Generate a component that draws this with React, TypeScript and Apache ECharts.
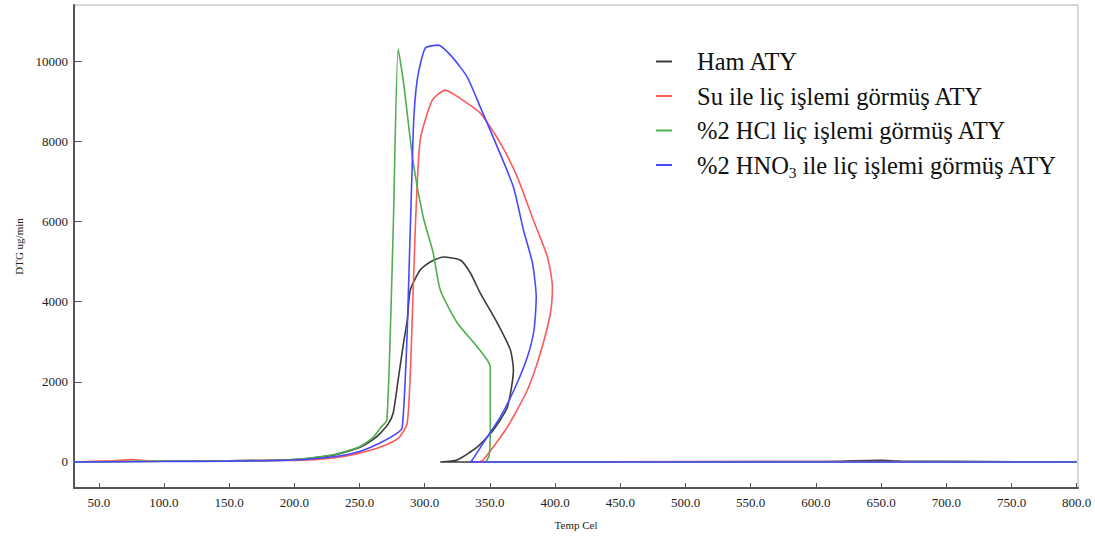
import React, { useEffect, useRef } from "react";
import * as echarts from "echarts";

const xTicks = [50, 100, 150, 200, 250, 300, 350, 400, 450, 500, 550, 600, 650, 700, 750, 800];
const yTicks = [0, 2000, 4000, 6000, 8000, 10000];

const seriesNames = [
  "Ham ATY",
  "Su ile liç işlemi görmüş ATY",
  "%2 HCl liç işlemi görmüş ATY",
  "%2 HNO3 ile liç işlemi görmüş ATY",
];

// [Temp (°C), DTG (ug/min)] in measurement order (curves loop back in temperature)
const hamATY: number[][] = [
  [30, 0], [100, 20], [150, 30], [200, 60], [230, 170], [250, 360], [260, 550], [266, 720],
  [272, 950], [275.8, 1222], [279.6, 2045], [283.5, 2918], [286.6, 3541], [288.9, 4289],
  [296.5, 4788], [304.2, 4988], [314.2, 5112], [327.3, 5037], [335, 4713], [342.6, 4214],
  [355.7, 3466], [365.7, 2793], [368, 2294], [363.4, 1372], [352.6, 798], [340.3, 374],
  [325, 50], [311.9, 0], [400, 0], [600, 10], [650, 40], [665, 20], [800, 0],
];
const suATY: number[][] = [
  [30, 0], [60, 30], [75, 60], [90, 20], [200, 40], [230, 100], [250, 220], [266, 370],
  [280, 600], [286.6, 973], [289.6, 2793], [292.7, 5786], [296.5, 8030], [305.8, 9027],
  [315.7, 9277], [325.7, 9102], [342.6, 8703], [358, 7955], [371, 7107], [383.3, 6035],
  [394.1, 5112], [397.9, 4364], [396.4, 3716], [388.7, 2718], [378.7, 1796], [363.4, 873],
  [344.9, 50], [341, 0], [500, 10], [600, 10], [800, 0],
];
const hclATY: number[][] = [
  [30, 0], [100, 20], [150, 20], [200, 60], [230, 180], [250, 380], [260, 600], [266, 850],
  [271, 1050], [275.8, 5786], [279.6, 10300], [283.5, 9526], [291.2, 7456], [298.8, 6110],
  [306.5, 5212], [311.9, 4289], [325, 3466], [340.3, 2868], [350.3, 2369], [350.3, 973],
  [349.5, 175], [347, 0], [500, 0], [800, 0],
];
const hno3ATY: number[][] = [
  [30, 0], [100, 10], [150, 20], [200, 50], [230, 130], [250, 260], [266, 480], [278, 700],
  [282.7, 850], [286.6, 3292], [291.2, 8279], [294.2, 9526], [300.4, 10324], [310.4, 10399],
  [321.1, 10100], [332.6, 9601], [342.6, 8853], [355.7, 7855], [368, 6858], [375.7, 5786],
  [382.6, 4963], [385.5, 4115], [383.8, 3292], [378.7, 2618], [369.5, 1870], [358, 1122],
  [344.9, 474], [336.5, 50], [335, 0], [500, 0], [800, 0],
];

const colors = ["#3c3c3c", "#ff5a5a", "#4fae4f", "#4848ff"];
const dataSets = [hamATY, suATY, hclATY, hno3ATY];

export default function App() {
  const ref = useRef<HTMLDivElement>(null);
  useEffect(() => {
    if (!ref.current) return;
    const chart = echarts.init(ref.current, undefined, { renderer: "svg" });
    const font = "Liberation Serif";
    chart.setOption({
      animation: false,
      backgroundColor: "#ffffff",
      textStyle: { fontFamily: font },
      grid: {
        left: 74,
        right: 17,
        top: 5,
        bottom: 48,
        show: true,
        borderColor: "#b0b0b0",
        borderWidth: 1,
      },
      legend: {
        orient: "vertical",
        left: 651,
        top: 44,
        icon: "rect",
        itemWidth: 16,
        itemHeight: 2,
        itemGap: 9.5,
        data: seriesNames,
        formatter: (name: string) =>
          name.indexOf("HNO3") >= 0
            ? "{a|%2 HNO}{sub|3}{a| ile liç işlemi görmüş ATY}"
            : "{a|" + name + "}",
        textStyle: {
          fontFamily: font,
          fontSize: 24.5,
          color: "#111",
          padding: [0, 0, 0, 20],
          rich: {
            a: { fontFamily: font, fontSize: 24.5, color: "#111" },
            sub: {
              fontFamily: font,
              fontSize: 15.5,
              color: "#111",
              verticalAlign: "bottom",
              padding: [14, 0, 0, 0],
            },
          },
        },
      },
      xAxis: {
        type: "value",
        min: 31,
        max: 801,
        name: "Temp Cel",
        nameLocation: "middle",
        nameGap: 31,
        nameTextStyle: { fontFamily: font, fontSize: 11, color: "#222" },
        splitLine: { show: false },
        axisLine: { show: true, onZero: false, lineStyle: { color: "#555", width: 2 } },
        axisTick: { show: true, inside: true, length: 5, customValues: xTicks, lineStyle: { color: "#555" } },
        axisLabel: {
          customValues: xTicks,
          formatter: (v: number) => v.toFixed(1),
          fontFamily: font,
          fontSize: 13,
          color: "#222",
          margin: 8,
        },
      },
      yAxis: {
        type: "value",
        min: -650,
        max: 11400,
        name: "DTG ug/min",
        nameLocation: "middle",
        nameGap: 50,
        nameRotate: 90,
        nameTextStyle: { fontFamily: font, fontSize: 11, color: "#222" },
        splitLine: { show: false },
        axisLine: { show: true, onZero: false, lineStyle: { color: "#555", width: 2 } },
        axisTick: { show: true, inside: true, length: 8, customValues: yTicks, lineStyle: { color: "#555" } },
        axisLabel: {
          customValues: yTicks,
          formatter: (v: number) => String(v),
          fontFamily: font,
          fontSize: 13,
          color: "#222",
          margin: 6,
        },
      },
      series: dataSets.map((d, i) => ({
        name: seriesNames[i],
        type: "line",
        data: d,
        showSymbol: false,
        smooth: 0.2,
        color: colors[i],
        lineStyle: { color: colors[i], width: 1.6 },
      })),
    });
    return () => chart.dispose();
  }, []);
  return (
    <div
      ref={ref}
      style={{ position: "fixed", left: 0, top: 0, width: 1095, height: 536, background: "#fff" }}
    />
  );
}
